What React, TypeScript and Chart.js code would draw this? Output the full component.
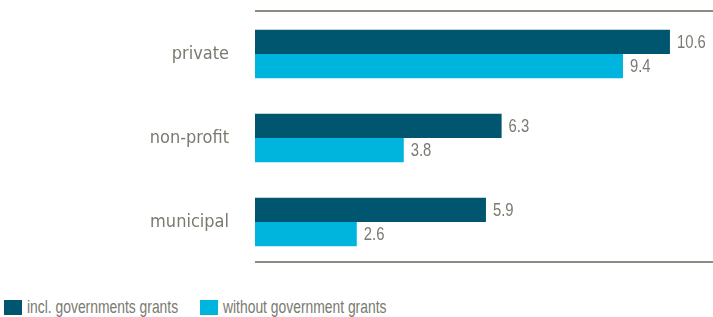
import React, { useEffect, useRef } from "react";
import { Chart, registerables } from "chart.js";

Chart.register(...registerables);

const categories = ["private", "non-profit", "municipal"];
const seriesNames = ["incl. governments grants", "without government grants"];
const inclGrants = [10.6, 6.3, 5.9];
const withoutGrants = [9.4, 3.8, 2.6];
const valueLabels = [
  ["10.6", "6.3", "5.9"],
  ["9.4", "3.8", "2.6"],
];

const DARK = "#00566e";
const CYAN = "#00b5dd";
const TEXT = "#7a7a70";
const LINE = "#8c8c84";
const CAT_FONT = "'DejaVu Sans Condensed', 'DejaVu Sans', sans-serif";
const NARROW_FONT = "'Liberation Sans', Arial, sans-serif";

const framePlugin = {
  id: "frameLines",
  afterDraw(chart: any) {
    const { ctx, chartArea } = chart;
    ctx.save();
    ctx.strokeStyle = LINE;
    ctx.lineWidth = 2;
    ctx.beginPath();
    ctx.moveTo(chartArea.left, chartArea.top - 1);
    ctx.lineTo(chartArea.right, chartArea.top - 1);
    ctx.moveTo(chartArea.left, chartArea.bottom - 2);
    ctx.lineTo(chartArea.right, chartArea.bottom - 2);
    ctx.stroke();
    ctx.restore();
  },
};

const valuePlugin = {
  id: "valueLabels",
  afterDatasetsDraw(chart: any) {
    const { ctx } = chart;
    chart.data.datasets.forEach((ds: any, di: number) => {
      const meta = chart.getDatasetMeta(di);
      meta.data.forEach((bar: any, i: number) => {
        ctx.save();
        ctx.fillStyle = TEXT;
        ctx.font = "19px " + NARROW_FONT;
        ctx.textAlign = "left";
        ctx.textBaseline = "middle";
        ctx.translate(bar.x + 7, bar.y + 1);
        ctx.scale(0.78, 1);
        ctx.fillText(valueLabels[di][i], 0, 0);
        ctx.restore();
      });
    });
  },
};

export default function App() {
  const ref = useRef<HTMLCanvasElement | null>(null);

  useEffect(() => {
    document.body.style.margin = "0";
    if (!ref.current) return;
    const chart = new Chart(ref.current, {
      type: "bar",
      data: {
        labels: categories,
        datasets: [
          {
            label: seriesNames[0],
            data: inclGrants,
            backgroundColor: DARK,
            barPercentage: 1,
            categoryPercentage: 0.575,
          },
          {
            label: seriesNames[1],
            data: withoutGrants,
            backgroundColor: CYAN,
            barPercentage: 1,
            categoryPercentage: 0.575,
          },
        ],
      },
      options: {
        indexAxis: "y",
        animation: false,
        responsive: false,
        maintainAspectRatio: false,
        layout: { padding: { top: 12, bottom: 16, left: 0, right: 0 } },
        plugins: {
          legend: { display: false },
          tooltip: { enabled: false },
        },
        scales: {
          x: {
            display: false,
            min: 0,
            max: 11.7,
          },
          y: {
            grid: { display: false, drawTicks: false },
            border: { display: false },
            ticks: {
              color: TEXT,
              font: { size: 18, family: CAT_FONT },
              padding: 26,
            },
            afterFit(scale: any) {
              scale.width = 255;
              scale.paddingTop = 0;
              scale.paddingBottom = 0;
            },
          },
        },
      },
      plugins: [framePlugin, valuePlugin],
    });
    return () => chart.destroy();
  }, []);

  const legendItem = (color: string, text: string, left: number) => (
    <div style={{ position: "absolute", left, top: 0, height: 20, width: 220 }}>
      <div style={{ position: "absolute", left: 0, top: 3, width: 18, height: 15, background: color }} />
      <span
        style={{
          position: "absolute",
          left: 23,
          top: 0,
          whiteSpace: "nowrap",
          color: TEXT,
          fontSize: 19,
          fontFamily: NARROW_FONT,
          lineHeight: "20px",
          transform: "scaleX(0.73)",
          transformOrigin: "left center",
        }}
      >
        {text}
      </span>
    </div>
  );

  return (
    <div style={{ position: "relative", width: 713, height: 317, background: "#fff" }}>
      <canvas ref={ref} width={713} height={280} style={{ display: "block" }} />
      <div style={{ position: "absolute", left: 0, top: 297, width: 713, height: 20 }}>
        {legendItem(DARK, seriesNames[0], 4)}
        {legendItem(CYAN, seriesNames[1], 200)}
      </div>
    </div>
  );
}
